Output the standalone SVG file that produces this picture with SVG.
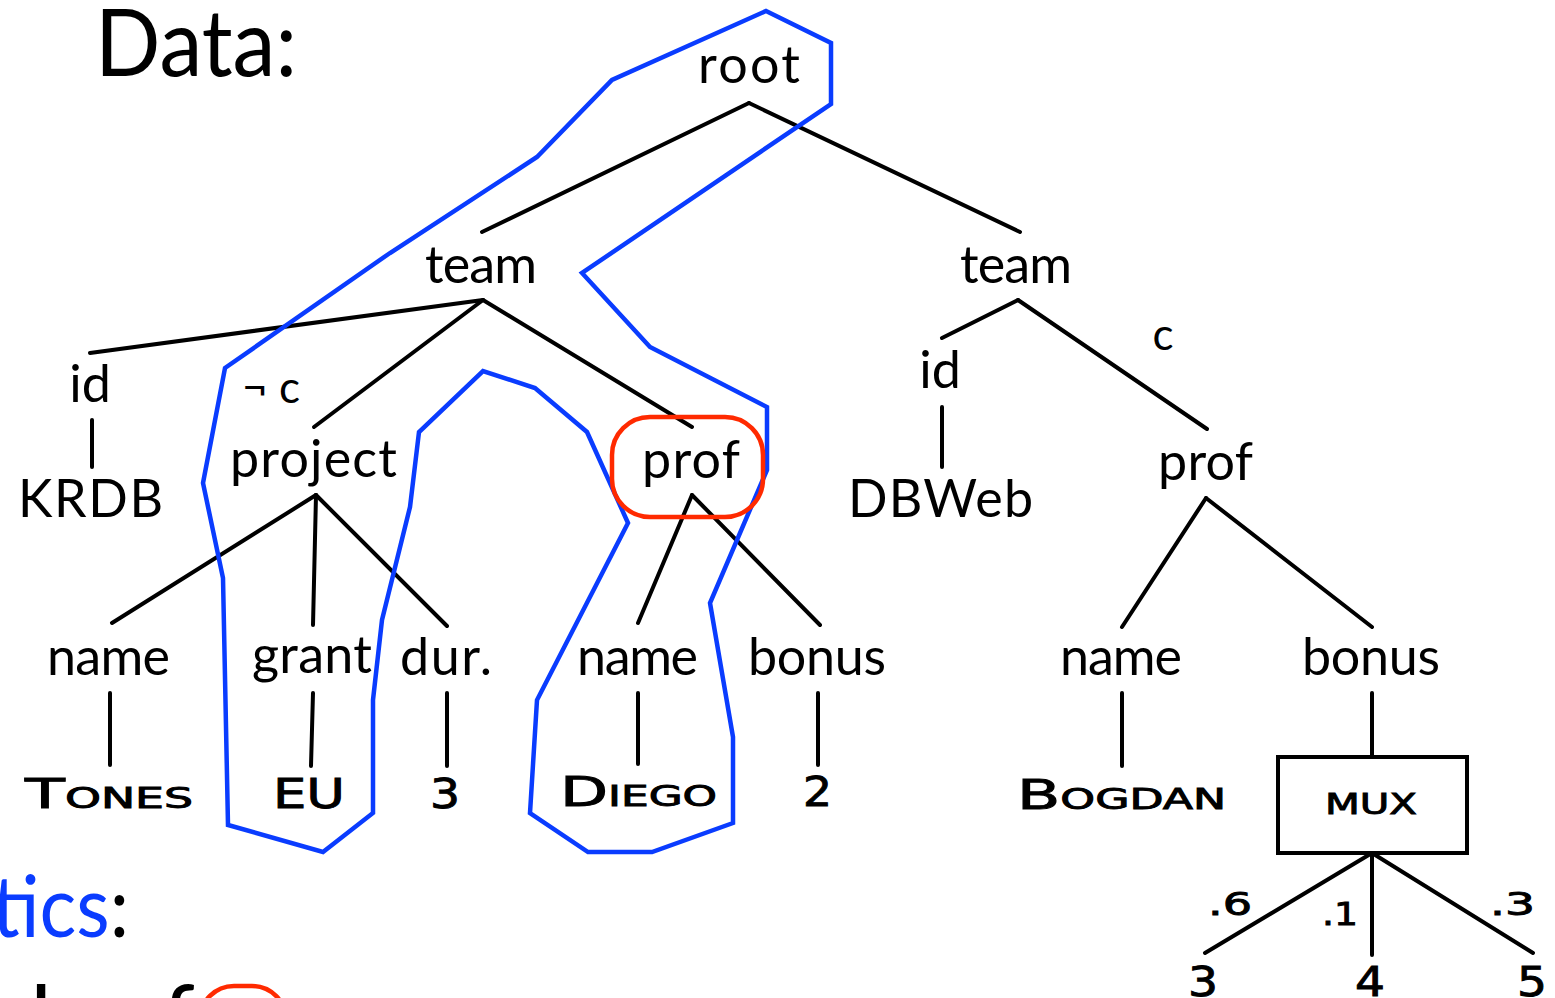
<svg xmlns="http://www.w3.org/2000/svg" width="1555" height="998" viewBox="0 0 1555 998">
<style>
  .lbl { font-family: Lato, "Open Sans", sans-serif; font-size: 52px; fill: #000; }
  .big { font-family: Lato, "Open Sans", sans-serif; font-size: 94px; fill: #000; }
  .cond { font-family: Lato, "Open Sans", sans-serif; font-size: 44px; fill: #000; }
  .sc { font-family: "DejaVu Sans", sans-serif; font-size: 40px; font-variant: small-caps; fill: #000; stroke: #000; stroke-width: 0.9; }
  .prob { font-family: "DejaVu Sans", sans-serif; font-size: 32px; fill: #000; stroke: #000; stroke-width: 0.9; }
  .edge { stroke: #000; stroke-width: 4; stroke-linecap: round; fill: none; }
  .blue { stroke: #0a3cff; stroke-width: 4.5; fill: none; stroke-linejoin: miter; }
  .red { stroke: #ff2a00; stroke-width: 4.5; fill: none; }
</style>
<rect width="1555" height="998" fill="#fff"/>

<g id="title">
  <text class="big" x="95" y="76" textLength="202" lengthAdjust="spacingAndGlyphs">Data:</text>
</g>

<g id="connectors">
  <line class="edge" x1="749" y1="103" x2="482" y2="232"/>
  <line class="edge" x1="749" y1="103" x2="1020" y2="232"/>
  <line class="edge" x1="483" y1="300" x2="90" y2="353"/>
  <line class="edge" x1="483" y1="300" x2="314" y2="427"/>
  <line class="edge" x1="483" y1="300" x2="692" y2="427"/>
  <line class="edge" x1="1018" y1="300" x2="942" y2="338"/>
  <line class="edge" x1="1018" y1="300" x2="1207" y2="429"/>
  <line class="edge" x1="92" y1="420" x2="92" y2="467"/>
  <line class="edge" x1="942" y1="407" x2="942" y2="467"/>
  <line class="edge" x1="316" y1="495" x2="112" y2="623"/>
  <line class="edge" x1="316" y1="495" x2="313" y2="625"/>
  <line class="edge" x1="316" y1="495" x2="447" y2="626"/>
  <line class="edge" x1="692" y1="495" x2="638" y2="623"/>
  <line class="edge" x1="692" y1="495" x2="820" y2="625"/>
  <line class="edge" x1="1206" y1="498" x2="1122" y2="627"/>
  <line class="edge" x1="1206" y1="498" x2="1372" y2="627"/>
  <line class="edge" x1="110" y1="693" x2="110" y2="765"/>
  <line class="edge" x1="313" y1="693" x2="311" y2="766"/>
  <line class="edge" x1="447" y1="693" x2="447" y2="766"/>
  <line class="edge" x1="638" y1="693" x2="638" y2="764"/>
  <line class="edge" x1="818" y1="693" x2="818" y2="765"/>
  <line class="edge" x1="1122" y1="693" x2="1122" y2="766"/>
  <line class="edge" x1="1372" y1="693" x2="1372" y2="757"/>
  <line class="edge" x1="1372" y1="853" x2="1205" y2="953"/>
  <line class="edge" x1="1372" y1="853" x2="1372" y2="955"/>
  <line class="edge" x1="1372" y1="853" x2="1533" y2="953"/>
</g>

<g id="node-root"><text class="lbl" x="698" y="83" textLength="102">root</text></g>
<g id="node-team1"><text class="lbl" x="425" y="283" textLength="112">team</text></g>
<g id="node-team2"><text class="lbl" x="960" y="283" textLength="112">team</text></g>
<g id="node-id1"><text class="lbl" x="90" y="402" text-anchor="middle">id</text></g>
<g id="label-notc"><text class="cond" x="242" y="403" textLength="58">¬ c</text></g>
<g id="node-project"><text class="lbl" x="230" y="477" textLength="167">project</text></g>
<g id="node-prof1"><text class="lbl" x="642" y="478" textLength="98">prof</text></g>
<g id="node-id2"><text class="lbl" x="940" y="388" text-anchor="middle">id</text></g>
<g id="label-c"><text class="cond" x="1163" y="350" text-anchor="middle">c</text></g>
<g id="node-krdb"><text class="lbl" x="18" y="517" textLength="145">KRDB</text></g>
<g id="node-dbweb"><text class="lbl" x="848" y="517" textLength="185">DBWeb</text></g>
<g id="node-prof2"><text class="lbl" x="1158" y="480" textLength="95">prof</text></g>
<g id="node-name1"><text class="lbl" x="47" y="675" textLength="123">name</text></g>
<g id="node-grant"><text class="lbl" x="252" y="673" textLength="120">grant</text></g>
<g id="node-dur"><text class="lbl" x="400" y="675" textLength="92">dur.</text></g>
<g id="node-name2"><text class="lbl" x="577" y="675" textLength="121">name</text></g>
<g id="node-bonus1"><text class="lbl" x="748" y="675" textLength="138">bonus</text></g>
<g id="node-name3"><text class="lbl" x="1060" y="675" textLength="122">name</text></g>
<g id="node-bonus2"><text class="lbl" x="1302" y="675" textLength="138">bonus</text></g>

<g id="node-tones"><text class="sc" x="25" y="808" textLength="168" lengthAdjust="spacingAndGlyphs">Tones</text></g>
<g id="node-eu"><text class="sc" x="273" y="808" textLength="72" lengthAdjust="spacingAndGlyphs">EU</text></g>
<g id="node-3a"><text class="sc" x="430" y="808" textLength="30" lengthAdjust="spacingAndGlyphs">3</text></g>
<g id="node-diego"><text class="sc" x="560" y="806" textLength="157" lengthAdjust="spacingAndGlyphs">Diego</text></g>
<g id="node-2"><text class="sc" x="803" y="806" textLength="29" lengthAdjust="spacingAndGlyphs">2</text></g>
<g id="node-bogdan"><text class="sc" x="1017" y="809" textLength="209" lengthAdjust="spacingAndGlyphs">Bogdan</text></g>

<g id="node-mux">
  <rect x="1278" y="757" width="189" height="96" fill="#fff" stroke="#000" stroke-width="4"/>
  <text class="sc" x="1325" y="814" textLength="92" lengthAdjust="spacingAndGlyphs">mux</text>
</g>
<g id="label-p6"><text class="prob" x="1208" y="915" textLength="44" lengthAdjust="spacingAndGlyphs">.6</text></g>
<g id="label-p1"><text class="prob" x="1322" y="925" textLength="36" lengthAdjust="spacingAndGlyphs">.1</text></g>
<g id="label-p3"><text class="prob" x="1490" y="915" textLength="45" lengthAdjust="spacingAndGlyphs">.3</text></g>
<g id="node-3b"><text class="sc" x="1188" y="996" textLength="30" lengthAdjust="spacingAndGlyphs">3</text></g>
<g id="node-4"><text class="sc" x="1355" y="996" textLength="30" lengthAdjust="spacingAndGlyphs">4</text></g>
<g id="node-5"><text class="sc" x="1517" y="996" textLength="30" lengthAdjust="spacingAndGlyphs">5</text></g>

<g id="query-outline">
  <polygon class="blue" points="766,11 831,43 831,104 582,273 650,347 767,407 767,470 710,603 733,737 733,823 652,852 588,852 530,813 537,700 628,523 587,432 535,388 483,371 419,432 410,507 382,620 373,700 373,813 323,852 228,825 223,578 203,483 225,368 390,253 537,157 612,80"/>
</g>
<g id="highlight">
  <rect class="red" x="612" y="417" width="151" height="100" rx="38"/>
</g>

<g id="semantics">
  <text x="-8" y="937" textLength="137" lengthAdjust="spacingAndGlyphs" style="font-family: Lato, 'Open Sans', sans-serif; font-size: 86px; fill:#000"><tspan style="fill:#0a3cff">tics</tspan>:</text>
  <text class="big" x="30" y="1052">l</text>
  <text class="big" x="162" y="1052">f</text>
  <rect class="red" x="200" y="986" width="86" height="70" rx="34"/>
</g>
</svg>
